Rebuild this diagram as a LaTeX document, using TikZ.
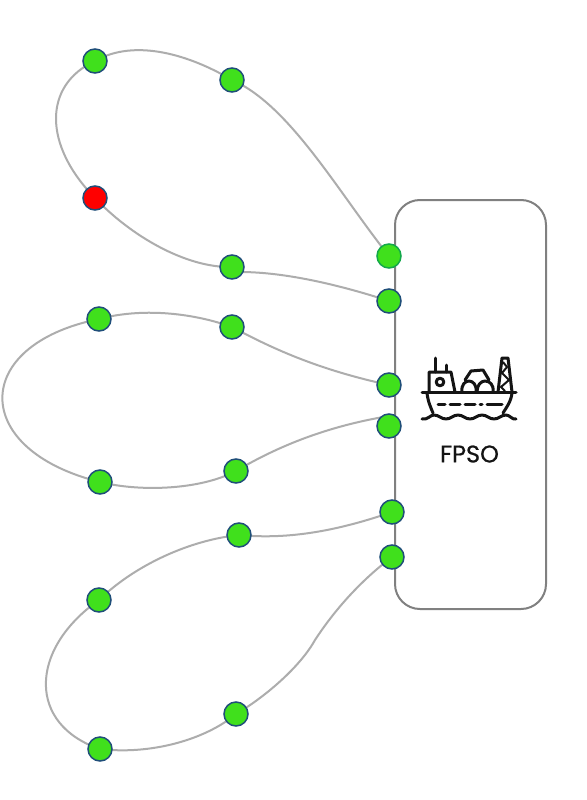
\documentclass[tikz,border=0pt]{standalone}
\usepackage{fontspec}
\setmainfont{Poppins}
\newfontfamily\fpsofont[FakeBold=0.7]{Poppins}
\definecolor{ngreen}{HTML}{40E01C}
\definecolor{nblue}{HTML}{1F4E79}
\definecolor{ngr2}{HTML}{12A84A}
\tikzset{
  px/.style={x=1pt,y=-1pt},
  station/.style={circle,draw=nblue,line width=1.5pt,fill=ngreen,minimum size=24pt,inner sep=0pt},
  redstation/.style={station,fill=red},
  edgestation/.style={station,draw=ngr2},
  flow/.style={draw=black!32,line width=2pt},
  vessel/.style={draw=black!50,line width=2pt,rounded corners=25pt},
  ship/.style={draw=black!92,line width=3pt,line cap=round,line join=round},
  shipthin/.style={draw=black!92,line width=2pt},
}
\begin{document}
\begin{tikzpicture}[px]
\useasboundingbox (0,0) rectangle (586,800);
\fill[white] (0,0) rectangle (586,800);
\draw[vessel] (395,200) rectangle (546,609);
\coordinate (t1) at (389,256); \coordinate (t2) at (389,301);
\coordinate (t3) at (389,385); \coordinate (t4) at (389,426);
\coordinate (t5) at (392,512); \coordinate (t6) at (392,557);
\coordinate (t4a) at (389,416); \coordinate (m6) at (315,640);
\coordinate (a1) at (232,80); \coordinate (a2) at (95,61); \coordinate (a3) at (95,198); \coordinate (a4) at (232,267);
\coordinate (a4a) at (240,272);
\coordinate (b1) at (232,327); \coordinate (b2) at (99,319); \coordinate (b3) at (100,482); \coordinate (b4) at (236,471);
\coordinate (c1) at (239,535); \coordinate (c2) at (99,600); \coordinate (c3) at (100,749); \coordinate (c4) at (236,714);
% connectors
\draw[flow] (t1) .. controls (340,195) and (290,105) .. (a1);
\draw[flow] (a1) .. controls (190,55) and (135,38) .. (a2);
\draw[flow] (a2) .. controls (43,85) and (43,145) .. (a3);
\draw[flow] (a3) .. controls (130,235) and (185,268) .. (a4);
\draw[flow] (a4a) .. controls (285,272) and (340,285) .. (t2);
\draw[flow] (t3) .. controls (320,370) and (275,350) .. (b1);
\draw[flow] (b1) .. controls (190,312) and (140,308) .. (b2);
\draw[flow] (b2) .. controls (-30,345) and (-30,450) .. (b3);
\draw[flow] (b3) .. controls (140,492) and (200,490) .. (b4);
\draw[flow] (b4) .. controls (285,442) and (335,425) .. (t4a);
\draw[flow] (t5) .. controls (340,530) and (290,540) .. (c1);
\draw[flow] (c1) .. controls (190,540) and (135,565) .. (c2);
\draw[flow] (c2) .. controls (28,650) and (28,725) .. (c3);
\draw[flow] (c3) .. controls (150,755) and (205,740) .. (c4);
\draw[flow] (c4) .. controls (265,697) and (300,667) .. (m6) .. controls (330,617) and (355,585) .. (t6);
% stations
\node[edgestation] (n1) at (t1) {};
\foreach \p/\q in {t2/n2,t3/n3,t4/n4,t5/n5,t6/n6,a1/n7,a2/n8,a4/n9,b1/n10,b2/n11,b3/n12,b4/n13,c1/n14,c2/n15,c3/n16,c4/n17}
  \node[station] (\q) at (\p) {};
\node[redstation] (n18) at (a3) {};
% ship icon
\draw[ship] (422,392) -- (516,392);
\draw[ship] (427,393) .. controls (428,402) and (431,408) .. (433,413);
\draw[ship] (512,393) .. controls (511,402) and (506,408) .. (503,413);
\draw[ship] (422,419) .. controls (428,420) and (430,415) .. (434,415) .. controls (439,415) and (441,419) .. (446,419) .. controls (451,419) and (453,415) .. (458,415) .. controls (463,415) and (465,419) .. (470,419) .. controls (475,419) and (477,415) .. (482,415) .. controls (487,415) and (489,419) .. (494,419) .. controls (499,419) and (501,415) .. (506,415) .. controls (510,415) and (512,420) .. (516,419);
\draw[ship] (438,404) -- (445,404) (450,404) -- (460,404) (465,404) -- (475,404) (480,404) -- (482,404) (487,404) -- (502,404);
\draw[ship] (429,392) -- (429,372) -- (451,372) -- (455,392);
\draw[ship] (440,382) circle (3.8);
\draw[ship] (435,372) -- (435,358);
\draw[ship] (446,372) -- (446,365);
\draw[ship] (462,392) .. controls (461,385) and (465,381) .. (469,381) .. controls (473,381) and (477,385) .. (476,392);
\draw[ship] (477,392) .. controls (477,385) and (481,381) .. (485,381) .. controls (490,381) and (494,385) .. (493,392);
\draw[ship] (465,380) -- (471,371) -- (483,370) -- (489,380);
\draw[ship] (498,392) -- (502,358) -- (508,358) -- (512,392);
\draw[shipthin] (503,362) -- (507,367) -- (502,373) -- (509,380) -- (501,387) -- (505,391);
\node[font=\fpsofont\fontsize{24}{26}\selectfont,text=black!92,inner sep=0pt] (fpso) at (469.5,454) {FPSO};
\end{tikzpicture}
\end{document}
